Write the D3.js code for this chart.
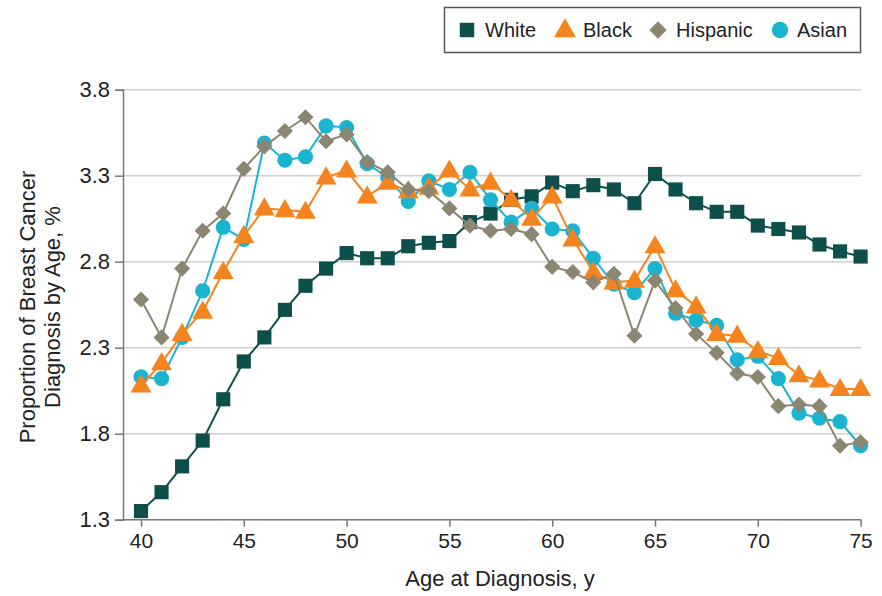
<!DOCTYPE html>
<html>
<head>
<meta charset="utf-8">
<script src="https://cdn.jsdelivr.net/npm/d3@7"></script>
<style>
  html, body { margin: 0; padding: 0; background: #fff; }
  svg { display: block; font-family: "Liberation Sans", Arial, sans-serif; }
</style>
</head>
<body>
<svg id="chart" width="882" height="596"></svg>
<script>
const ages = d3.range(40, 76);
const white = [1.35,1.46,1.61,1.76,2.00,2.22,2.36,2.52,2.66,2.76,2.85,2.82,2.82,2.89,2.91,2.92,3.03,3.08,3.16,3.18,3.26,3.21,3.245,3.22,3.14,3.31,3.22,3.14,3.09,3.09,3.01,2.99,2.97,2.90,2.86,2.83];
const black = [2.08,2.21,2.38,2.51,2.74,2.95,3.11,3.10,3.09,3.29,3.33,3.18,3.26,3.21,3.23,3.33,3.22,3.26,3.16,3.05,3.18,2.93,2.74,2.68,2.69,2.89,2.635,2.54,2.38,2.37,2.28,2.24,2.14,2.11,2.06,2.06];
const hispanic = [2.58,2.36,2.76,2.98,3.08,3.34,3.47,3.56,3.64,3.50,3.54,3.38,3.32,3.22,3.21,3.11,3.01,2.98,2.99,2.96,2.77,2.74,2.68,2.73,2.37,2.69,2.53,2.38,2.27,2.15,2.13,1.96,1.97,1.96,1.73,1.75];
const asian = [2.13,2.12,2.36,2.63,3.00,2.93,3.49,3.39,3.41,3.59,3.58,3.37,3.29,3.15,3.27,3.22,3.32,3.16,3.03,3.11,2.99,2.98,2.82,2.67,2.62,2.76,2.50,2.46,2.43,2.23,2.25,2.12,1.92,1.89,1.87,1.73];
const xTicks = [40,45,50,55,60,65,70,75];
const yTicks = [1.3,1.8,2.3,2.8,3.3,3.8];
const seriesNames = ["White","Black","Hispanic","Asian"];
const seriesColors = ["#0d4f4b","#f5841f","#8a8670","#1ab4d0"];
const seriesSymbols = [d3.symbolSquare, d3.symbolTriangle, d3.symbolSquare, d3.symbolCircle];
const seriesRot = [0, 0, 45, 0];
const seriesSizes = [200, 190, 130, 180];
const seriesData = [white, black, hispanic, asian];

const svg = d3.select("#chart");
const x = d3.scaleLinear().domain([40,75]).range([141, 860.6]);
const y = d3.scaleLinear().domain([1.3,3.8]).range([519.7, 89.7]);
const axisX0 = 123, plotRight = 861;

// gridlines
svg.append("g").selectAll("line").data(yTicks.slice(1)).join("line")
  .attr("x1", axisX0).attr("x2", plotRight)
  .attr("y1", d => y(d)).attr("y2", d => y(d))
  .attr("stroke", "#cfcfcf").attr("stroke-width", 1.5);

// y axis
const yAxis = d3.axisLeft(y).tickValues(yTicks).tickFormat(d3.format(".1f")).tickSize(8).tickPadding(5);
const gy = svg.append("g").attr("transform", `translate(${axisX0},0)`).call(yAxis);
gy.select(".domain").attr("stroke", "#777").attr("stroke-width", 1.5);
gy.selectAll(".tick line").attr("stroke", "#777").attr("stroke-width", 1.5);
gy.selectAll(".tick text").attr("font-size", 22).attr("fill", "#222").attr("font-family", "Liberation Sans, Arial, sans-serif");

// x axis
const xAxis = d3.axisBottom(x).tickValues(xTicks).tickSize(7).tickPadding(6);
const gx = svg.append("g").attr("transform", `translate(0,${y(1.3)})`).call(xAxis);
gx.select(".domain").attr("d", `M${axisX0},0H${plotRight}`).attr("stroke", "#777").attr("stroke-width", 1.5);
gx.selectAll(".tick line").attr("stroke", "#777").attr("stroke-width", 1.5);
gx.selectAll(".tick text").attr("font-size", 21).attr("fill", "#222").attr("font-family", "Liberation Sans, Arial, sans-serif");

// axis titles
svg.append("text").attr("x", 500).attr("y", 586).attr("text-anchor", "middle")
  .attr("font-size", 22).attr("fill", "#222").text("Age at Diagnosis, y");
const yt = svg.append("text").attr("transform", "translate(35,307) rotate(-90)")
  .attr("text-anchor", "middle").attr("font-size", 22).attr("fill", "#222");
yt.append("tspan").attr("x", 0).attr("y", 0).text("Proportion of Breast Cancer");
yt.append("tspan").attr("x", 0).attr("y", 25).text("Diagnosis by Age, %");

// series: draw order White, Asian, Black, Hispanic
const order = [0,3,1,2];
const line = d3.line().x((d,i) => x(ages[i])).y(d => y(d));
order.forEach(k => {
  const g = svg.append("g");
  g.append("path").attr("d", line(seriesData[k])).attr("fill", "none")
    .attr("stroke", seriesColors[k]).attr("stroke-width", 2);
  g.selectAll("path.m").data(seriesData[k]).join("path").attr("class","m")
    .attr("transform", (d,i) => `translate(${x(ages[i])},${y(d) + (k===1 ? 1 : 0)}) rotate(${seriesRot[k]})`)
    .attr("d", d3.symbol().type(seriesSymbols[k]).size(seriesSizes[k]))
    .attr("fill", seriesColors[k]);
});

// legend
const lg = svg.append("g");
lg.append("rect").attr("x", 444.5).attr("y", 7.5).attr("width", 416).attr("height", 45)
  .attr("fill", "#fff").attr("stroke", "#555").attr("stroke-width", 1.5);
const legendX = [467, 565, 658, 780];
const legendTextX = [485, 583, 676, 797];
seriesNames.forEach((n, k) => {
  lg.append("path").attr("transform", `translate(${legendX[k]},${30 + (k===1?1:0)}) rotate(${seriesRot[k]})`)
    .attr("d", d3.symbol().type(seriesSymbols[k]).size(k===2 ? 150 : 210)).attr("fill", seriesColors[k]);
  lg.append("text").attr("x", legendTextX[k]).attr("y", 37).attr("font-size", 20)
    .attr("fill", "#222").text(n);
});
</script>
</body>
</html>
